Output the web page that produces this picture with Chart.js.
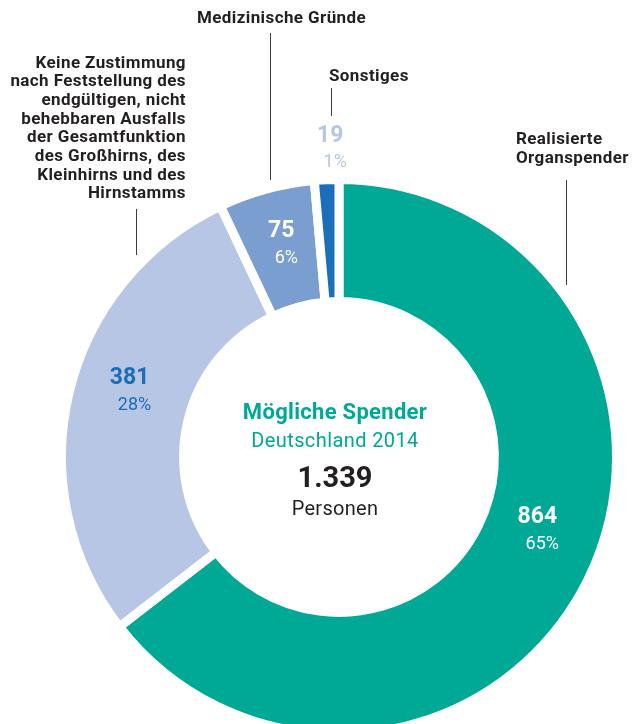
<!DOCTYPE html>
<html lang="de">
<head>
<meta charset="utf-8">
<title>Mögliche Spender 2014</title>
<script src="https://cdn.jsdelivr.net/npm/chart.js@4.4.1/dist/chart.umd.min.js"></script>
<style>
  html, body { margin: 0; padding: 0; background: #fff; overflow: hidden; }
  #wrap { position: relative; width: 632px; height: 760px; font-family: Roboto, "Noto Sans", sans-serif; color: #231f20; }
  #wrap canvas { position: absolute; left: 0; top: 0; }
  .lbl { position: absolute; font-weight: 700; font-size: 17px; letter-spacing: 0.4px; line-height: 18.7px; white-space: pre; transform: translateY(-50%); }
  .line { position: absolute; width: 0; border-left: 1px solid #3c3c3c; }
  .mid { position: absolute; left: 185px; width: 300px; text-align: center; line-height: 1; transform: translateY(-50%); white-space: nowrap; }
</style>
</head>
<body>
<div id="wrap">
  <canvas id="donut" width="632" height="760"></canvas>
</div>
<script>
// Daten: Mögliche Spender, Deutschland 2014
const categories = [
  'Realisierte\nOrganspender',
  'Keine Zustimmung\nnach Feststellung des\nendgültigen, nicht\nbehebbaren Ausfalls\nder Gesamtfunktion\ndes Großhirns, des\nKleinhirns und des\nHirnstamms',
  'Medizinische Gründe',
  'Sonstiges'
];
const values = [864, 381, 75, 19];
const centerTitle = 'Mögliche Spender';
const centerSub = 'Deutschland 2014';
const centerUnit = 'Personen';

// Stil
const sliceColors = ['#00a896', '#b6c6e4', '#7b9ed0', '#1b6fb8'];
const valueColors = ['#ffffff', '#1b6db8', '#ffffff', '#b6c6e4'];
const green = '#00a896';

// Position der Werte relativ zum Bogen: r = 'mid' oder Abstand außen, dx/dy Feinkorrektur
const labelPlace = [
  { r: 'mid', dx: 6, dy: -22 },
  { r: 'mid', dx: 3, dy: -15 },
  { r: 'mid', dx: 1, dy: -4 },
  { r: 31, dx: 7, dy: 0 }
];

// Kategorie-Beschriftungen und Führungslinien (Seitenlayout)
const catPlace = [
  { left: 516, y: 148, align: 'left' },
  { right: 186, y: 127.5, align: 'right' },
  { left: 197, y: 17, align: 'left' },
  { left: 329, y: 75, align: 'left' }
];
const leaderLines = [
  { x: 566, y1: 180, y2: 285 },
  { x: 136, y1: 209, y2: 255 },
  { x: 270, y1: 33, y2: 180 },
  { x: 331, y1: 88, y2: 116 }
];

const total = values.reduce((a, b) => a + b, 0);

function formatDe(n) {
    return String(n).replace(/\B(?=(\d{3})+(?!\d))/g, '.');
}

const valueLabels = {
    id: 'valueLabels',
    afterDatasetsDraw(chart) {
        const ctx = chart.ctx;
        const arcs = chart.getDatasetMeta(0).data;
        ctx.save();
        ctx.textAlign = 'center';
        ctx.textBaseline = 'middle';
        arcs.forEach((arc, i) => {
            const p = arc.getProps(['x', 'y', 'startAngle', 'endAngle', 'innerRadius', 'outerRadius'], true);
            const a = (p.startAngle + p.endAngle) / 2;
            const place = labelPlace[i];
            const r = place.r === 'mid' ? (p.innerRadius + p.outerRadius) / 2 : p.outerRadius + place.r;
            const cx = p.x + Math.cos(a) * r + place.dx;
            const cy = p.y + Math.sin(a) * r + place.dy;
            ctx.fillStyle = valueColors[i];
            ctx.font = '700 23px Roboto, "Noto Sans", sans-serif';
            ctx.fillText(String(values[i]), cx - 2, cy - 13);
            ctx.font = '400 18px Roboto, "Noto Sans", sans-serif';
            ctx.fillText(Math.round(values[i] / total * 100) + '%', cx + 3, cy + 14);
        });
        ctx.restore();
    }
};

new Chart(document.getElementById('donut').getContext('2d'), {
    type: 'doughnut',
    data: {
        labels: categories,
        datasets: [{
            data: values,
            backgroundColor: sliceColors,
            borderColor: '#ffffff',
            borderWidth: 9,
            hoverBorderWidth: 9,
            hoverOffset: 0
        }]
    },
    options: {
        responsive: false,
        animation: false,
        events: [],
        cutout: '56%',
        layout: { padding: { left: 57, right: 11, top: 175, bottom: 21 } },
        plugins: {
            legend: { display: false },
            tooltip: { enabled: false }
        }
    },
    plugins: [valueLabels]
});

// Beschriftungen als HTML-Text
const wrap = document.getElementById('wrap');
categories.forEach((c, i) => {
    const d = document.createElement('div');
    d.className = 'lbl';
    d.textContent = c;
    const pl = catPlace[i];
    d.style.top = pl.y + 'px';
    d.style.textAlign = pl.align;
    if (pl.align === 'right') d.style.right = (632 - pl.right) + 'px';
    else d.style.left = pl.left + 'px';
    wrap.appendChild(d);
});
leaderLines.forEach(l => {
    const d = document.createElement('div');
    d.className = 'line';
    d.style.left = l.x + 'px';
    d.style.top = l.y1 + 'px';
    d.style.height = (l.y2 - l.y1) + 'px';
    wrap.appendChild(d);
});

function centerText(text, y, size, weight, color, spacing) {
    const d = document.createElement('div');
    d.className = 'mid';
    d.textContent = text;
    d.style.top = y + 'px';
    d.style.fontSize = size + 'px';
    d.style.fontWeight = weight;
    d.style.color = color;
    d.style.letterSpacing = spacing + 'px';
    wrap.appendChild(d);
}
centerText(centerTitle, 412, 22, 700, green, 0.3);
centerText(centerSub, 440, 20, 400, green, 0.4);
centerText(formatDe(total), 477, 29, 700, '#231f20', 0);
centerText(centerUnit, 508, 20, 400, '#231f20', 0.3);
</script>
</body>
</html>
